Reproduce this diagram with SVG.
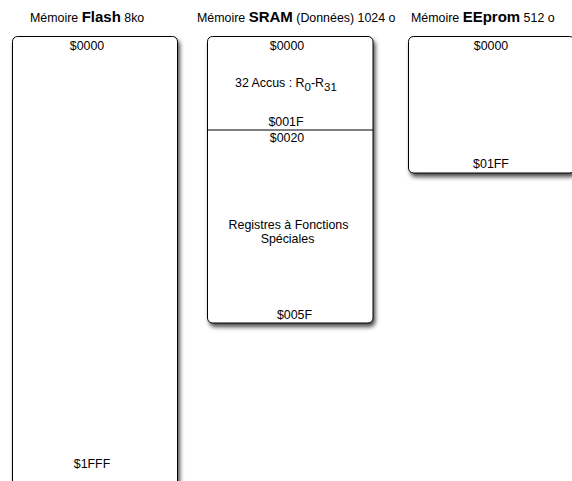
<svg xmlns="http://www.w3.org/2000/svg" width="572" height="481" viewBox="0 0 572 481">
<defs>
<filter id="sh" x="-10%" y="-10%" width="130%" height="130%">
<feDropShadow dx="2" dy="3.5" stdDeviation="2.2" flood-color="#000" flood-opacity="0.7"/>
</filter>
</defs>
<style>
text{font-family:"Liberation Sans",Arial,Helvetica,sans-serif;font-size:12.4px;fill:#000}
.b{font-weight:bold;font-size:15px}
.box{fill:#fff;stroke:#000;stroke-width:1;filter:url(#sh)}
.c{text-anchor:middle}
.sub{font-size:11.5px}
</style>
<rect width="572" height="481" fill="#fff"/>
<g id="flash">
<text x="30" y="22">Mémoire <tspan class="b">Flash</tspan> 8ko</text>
<rect class="box" x="12.5" y="36.5" width="165" height="450" rx="5"/>
<text class="c" x="87" y="50">$0000</text>
<text class="c" x="92" y="468">$1FFF</text>
</g>
<g id="sram">
<text x="197" y="22">Mémoire <tspan class="b">SRAM</tspan> (Données) 1024 o</text>
<rect class="box" x="207.5" y="36.5" width="165.5" height="286.5" rx="5"/>
<line x1="207.5" y1="130" x2="373" y2="130" stroke="#000" stroke-width="1"/>
<text class="c" x="287" y="50">$0000</text>
<text x="235" y="87">32 Accus : R<tspan class="sub" dy="4">0</tspan><tspan dy="-4">-R</tspan><tspan class="sub" dy="4">31</tspan></text>
<text class="c" x="286" y="126">$001F</text>
<text class="c" x="287" y="142">$0020</text>
<text class="c" x="288.5" y="229">Registres à Fonctions</text>
<text class="c" x="287.5" y="243">Spéciales</text>
<text class="c" x="294.5" y="319">$005F</text>
</g>
<g id="eeprom">
<text x="411" y="22">Mémoire <tspan class="b">EEprom</tspan> 512 o</text>
<rect class="box" x="408.5" y="36.5" width="166" height="136.5" rx="5"/>
<text class="c" x="491" y="50">$0000</text>
<text class="c" x="491" y="168">$01FF</text>
</g>
<g id="connectors"></g>
</svg>
